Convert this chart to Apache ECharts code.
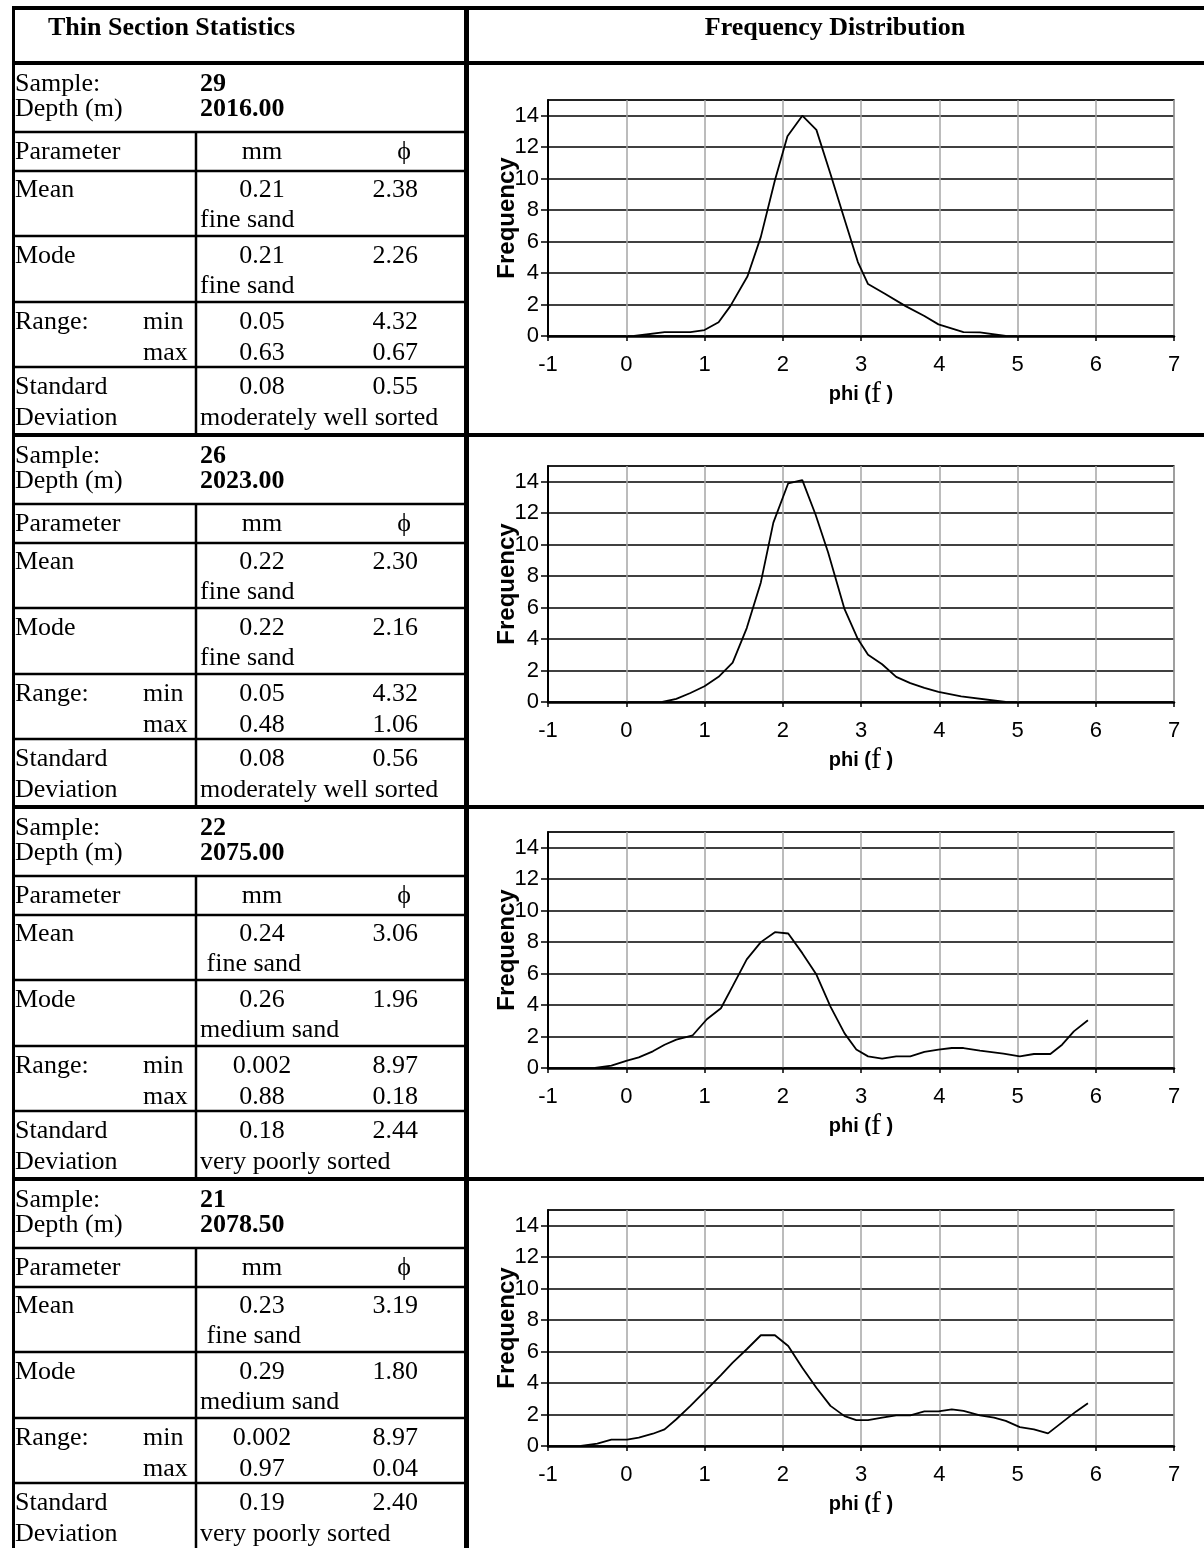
<!DOCTYPE html>
<html>
<head>
<meta charset="utf-8">
<script src="https://cdn.jsdelivr.net/npm/echarts@6/dist/echarts.min.js"></script>
<style>
html,body{margin:0;padding:0;background:#fff;}
#main{width:1204px;height:1548px;}
</style>
</head>
<body>
<div id="main"></div>
<script>
// ---------- table data ----------
const samples   = ['29', '26', '22', '21'];
const depths    = ['2016.00', '2023.00', '2075.00', '2078.50'];
const meanMm    = ['0.21', '0.22', '0.24', '0.23'];
const meanPhi   = ['2.38', '2.30', '3.06', '3.19'];
const meanClass = ['fine sand', 'fine sand', ' fine sand', ' fine sand'];
const modeMm    = ['0.21', '0.22', '0.26', '0.29'];
const modePhi   = ['2.26', '2.16', '1.96', '1.80'];
const modeClass = ['fine sand', 'fine sand', 'medium sand', 'medium sand'];
const minMm     = ['0.05', '0.05', '0.002', '0.002'];
const minPhi    = ['4.32', '4.32', '8.97', '8.97'];
const maxMm     = ['0.63', '0.48', '0.88', '0.97'];
const maxPhi    = ['0.67', '1.06', '0.18', '0.04'];
const sdMm      = ['0.08', '0.08', '0.18', '0.19'];
const sdPhi     = ['0.55', '0.56', '2.44', '2.40'];
const sdClass   = ['moderately well sorted', 'moderately well sorted', 'very poorly sorted', 'very poorly sorted'];

// ---------- chart data (phi, frequency) ----------
const phi1  = [0.10, 0.49, 0.82, 1.00, 1.18, 1.33, 1.55, 1.72, 1.90, 2.06, 2.25, 2.43, 2.61, 2.79, 2.96, 3.09, 3.30, 3.57, 3.81, 3.99, 4.31, 4.52, 4.85];
const freq1 = [0, 0.25, 0.25, 0.38, 0.87, 1.9, 3.8, 6.3, 9.9, 12.7, 14.0, 13.1, 10.3, 7.4, 4.7, 3.3, 2.7, 1.9, 1.27, 0.74, 0.25, 0.23, 0];

const phi2  = [0.46, 0.64, 0.82, 1.00, 1.18, 1.36, 1.54, 1.72, 1.88, 2.07, 2.25, 2.42, 2.58, 2.79, 2.96, 3.09, 3.27, 3.45, 3.63, 3.81, 3.99, 4.28, 4.85];
const freq2 = [0, 0.2, 0.57, 1.0, 1.6, 2.5, 4.7, 7.6, 11.4, 13.9, 14.1, 11.9, 9.5, 5.9, 4.0, 3.0, 2.4, 1.6, 1.2, 0.9, 0.64, 0.36, 0];

const phi3  = [-0.40, -0.19, 0.01, 0.16, 0.34, 0.49, 0.64, 0.85, 1.03, 1.21, 1.36, 1.54, 1.72, 1.90, 2.07, 2.25, 2.43, 2.61, 2.79, 2.94, 3.09, 3.27, 3.45, 3.63, 3.81, 3.99, 4.16, 4.31, 4.52, 4.82, 5.03, 5.21, 5.42, 5.57, 5.72, 5.90];
const freq3 = [0, 0.15, 0.47, 0.68, 1.06, 1.48, 1.8, 2.08, 3.1, 3.8, 5.2, 6.9, 8.0, 8.63, 8.55, 7.3, 5.94, 3.9, 2.2, 1.17, 0.74, 0.6, 0.74, 0.74, 1.02, 1.17, 1.27, 1.27, 1.1, 0.91, 0.74, 0.89, 0.89, 1.48, 2.33, 3.03];

const phi4  = [-0.58, -0.37, -0.19, 0.01, 0.16, 0.34, 0.49, 0.64, 0.82, 1.03, 1.21, 1.36, 1.54, 1.72, 1.90, 2.07, 2.25, 2.43, 2.61, 2.79, 2.94, 3.09, 3.27, 3.45, 3.63, 3.81, 3.99, 4.16, 4.31, 4.52, 4.70, 4.85, 5.03, 5.21, 5.39, 5.57, 5.75, 5.90];
const freq4 = [0, 0.15, 0.4, 0.4, 0.53, 0.78, 1.06, 1.7, 2.55, 3.6, 4.5, 5.3, 6.15, 7.04, 7.04, 6.36, 4.98, 3.7, 2.55, 1.9, 1.65, 1.65, 1.8, 1.95, 1.95, 2.2, 2.2, 2.33, 2.23, 1.95, 1.8, 1.6, 1.2, 1.06, 0.8, 1.5, 2.2, 2.72];

const seriesPhi  = [phi1, phi2, phi3, phi4];
const seriesFreq = [freq1, freq2, freq3, freq4];

// axis ticks
const xMin = -1, xMax = 7, xStep = 1;
const yMin = 0, yMax = 15, yStep = 2;

// ---------- layout ----------
const blockTops = [63, 435, 807, 1179];
const chartTops = [100, 466, 832, 1210];
const plotLeft = 548, plotWidth = 626, plotHeight = 236;
const SERIF = '"Liberation Serif","Times New Roman",serif';
const SANS = '"Liberation Sans",Arial,sans-serif';
const FS = 26;

const graphics = [];
function line(x1, y1, x2, y2, w) {
  graphics.push({type: 'line', silent: true, z: 10,
    shape: {x1: x1, y1: y1, x2: x2, y2: y2},
    style: {stroke: '#000', lineWidth: w}});
}
function text(str, x, y, align, bold) {
  graphics.push({type: 'text', silent: true, z: 10,
    style: {text: str, x: x, y: y, fill: '#000',
      font: (bold ? 'bold ' : '') + FS + 'px ' + SERIF,
      textAlign: align || 'left', textVerticalAlign: 'middle'}});
}

// outer frame + header
line(12, 8, 1204, 8, 4);
line(13.5, 6, 13.5, 1548, 3);
line(466.5, 6, 466.5, 1548, 5);
text('Thin Section Statistics', 48, 28, 'left', true);
text('Frequency Distribution', 835, 28, 'center', true);

const LX = 15, VX = 200, MMX = 262, PHX = 418, SUBX = 143, DIVX = 196;
for (let i = 0; i < 4; i++) {
  const T = blockTops[i];
  line(12, T, 1204, T, 4);
  text('Sample:', LX, T + 21);
  text(samples[i], VX, T + 21, 'left', true);
  text('Depth (m)', LX, T + 46);
  text(depths[i], VX, T + 46, 'left', true);
  line(12, T + 69, 466, T + 69, 2.5);
  text('Parameter', LX, T + 89);
  text('mm', MMX, T + 89, 'center');
  text('\u03D5', 404, T + 89, 'center');
  line(12, T + 108, 466, T + 108, 2.5);
  text('Mean', LX, T + 127);
  text(meanMm[i], MMX, T + 127, 'center');
  text(meanPhi[i], PHX, T + 127, 'right');
  text(meanClass[i], VX, T + 157);
  line(12, T + 173, 466, T + 173, 2.5);
  text('Mode', LX, T + 193);
  text(modeMm[i], MMX, T + 193, 'center');
  text(modePhi[i], PHX, T + 193, 'right');
  text(modeClass[i], VX, T + 223);
  line(12, T + 239, 466, T + 239, 2.5);
  text('Range:', LX, T + 259);
  text('min', SUBX, T + 259);
  text(minMm[i], MMX, T + 259, 'center');
  text(minPhi[i], PHX, T + 259, 'right');
  text('max', SUBX, T + 290);
  text(maxMm[i], MMX, T + 290, 'center');
  text(maxPhi[i], PHX, T + 290, 'right');
  line(12, T + 304, 466, T + 304, 2.5);
  text('Standard', LX, T + 324);
  text(sdMm[i], MMX, T + 324, 'center');
  text(sdPhi[i], PHX, T + 324, 'right');
  text('Deviation', LX, T + 355);
  text(sdClass[i], VX, T + 355);
  const bottom = (i < 3) ? blockTops[i + 1] : 1548;
  line(DIVX, T + 69, DIVX, bottom, 2.5);
}

// ---------- charts ----------
const grids = [], xAxes = [], yAxes = [], series = [];
for (let i = 0; i < 4; i++) {
  grids.push({left: plotLeft, top: chartTops[i], width: plotWidth, height: plotHeight,
    show: true, borderColor: '#8c8c8c', borderWidth: 2, backgroundColor: 'transparent'});
  xAxes.push({type: 'value', gridIndex: i, min: xMin, max: xMax, interval: xStep,
    name: '{a|phi (}{b|f}{a| )}', nameLocation: 'middle', nameGap: 43,
    nameMoveOverlap: false,
    nameTextStyle: {rich: {
      a: {fontFamily: SANS, fontWeight: 'bold', fontSize: 20, color: '#000'},
      b: {fontFamily: SERIF, fontSize: 30, color: '#000'}}},
    axisLine: {show: true, onZero: false, lineStyle: {color: '#000', width: 2.5}},
    axisTick: {show: true, inside: false, length: 5, lineStyle: {color: '#000', width: 1.5}},
    axisLabel: {fontFamily: SANS, fontSize: 22, color: '#000', margin: 18},
    splitLine: {show: true, lineStyle: {color: '#a6a6a6', width: 1.5}}});
  yAxes.push({type: 'value', gridIndex: i, min: yMin, max: yMax, interval: yStep,
    name: 'Frequency', nameLocation: 'middle', nameGap: 29, nameRotate: 90,
    nameMoveOverlap: false,
    nameTextStyle: {fontFamily: SANS, fontWeight: 'bold', fontSize: 24, color: '#000'},
    axisLine: {show: true, onZero: false, lineStyle: {color: '#000', width: 2}},
    axisTick: {show: true, inside: false, length: 7, lineStyle: {color: '#000', width: 1.5}},
    axisLabel: {fontFamily: SANS, fontSize: 22, color: '#000', margin: 9,
      showMaxLabel: false},
    splitLine: {show: true, lineStyle: {color: '#000', width: 1.5}}});
  const data = seriesPhi[i].map((p, k) => [p, seriesFreq[i][k]]);
  series.push({type: 'line', xAxisIndex: i, yAxisIndex: i, data: data,
    showSymbol: false, symbol: 'none', smooth: false, animation: false,
    lineStyle: {color: '#000', width: 1.8}, z: 5});
}

const chart = echarts.init(document.getElementById('main'), null, {renderer: 'canvas'});
chart.setOption({
  animation: false,
  backgroundColor: '#fff',
  grid: grids, xAxis: xAxes, yAxis: yAxes, series: series,
  graphic: graphics
});
</script>
</body>
</html>
